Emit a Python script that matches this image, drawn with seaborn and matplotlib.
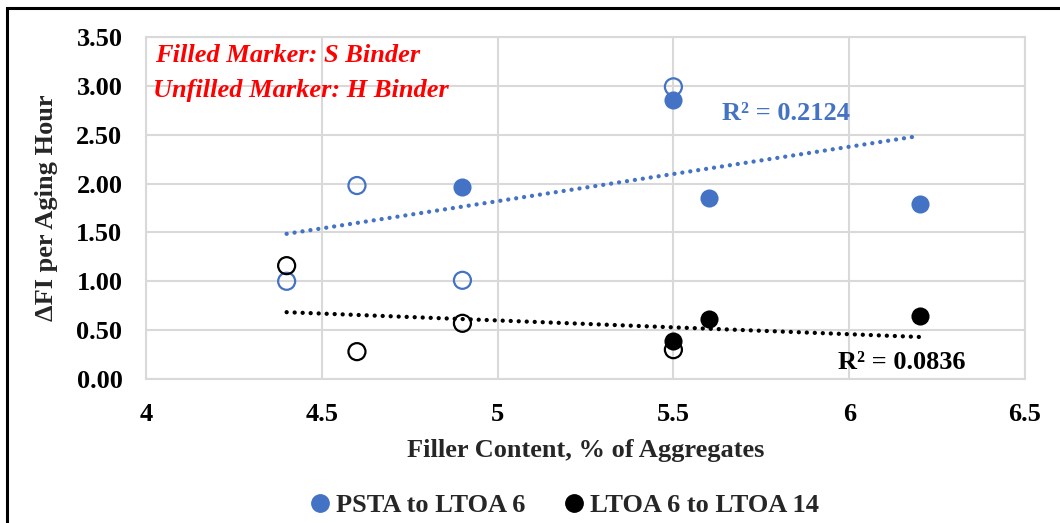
import matplotlib
matplotlib.use("Agg")
import matplotlib.pyplot as plt
import seaborn as sns
import numpy as np
from matplotlib.lines import Line2D
from matplotlib.patches import Rectangle

# Filler content (% of aggregates) and change in FI per aging hour
s_filler_psta = [4.9, 5.5, 5.6, 6.2]          # S binder, PSTA to LTOA 6
s_dfi_psta = [1.97, 2.86, 1.85, 1.79]
h_filler_psta = [4.4, 4.6, 4.9, 5.5]          # H binder, PSTA to LTOA 6
h_dfi_psta = [1.00, 1.98, 1.01, 2.99]

s_filler_ltoa = [5.5, 5.6, 6.2]               # S binder, LTOA 6 to LTOA 14
s_dfi_ltoa = [0.39, 0.61, 0.645]
h_filler_ltoa = [4.4, 4.6, 4.9, 5.5]          # H binder, LTOA 6 to LTOA 14
h_dfi_ltoa = [1.16, 0.28, 0.57, 0.30]

series_names = ["PSTA to LTOA 6", "LTOA 6 to LTOA 14"]
r2_labels = ["R\u00b2 = 0.2124", "R\u00b2 = 0.0836"]
x_ticks = [4, 4.5, 5, 5.5, 6, 6.5]
y_ticks = [0.0, 0.5, 1.0, 1.5, 2.0, 2.5, 3.0, 3.5]

BLUE = "#4472C4"
BLACK = "#000000"
GRID = "#d9d9d9"
FS = 19

sns.set_theme(style="white")
plt.rcParams["font.family"] = ["Liberation Serif", "DejaVu Serif"]
plt.rcParams["font.weight"] = "bold"

fig = plt.figure(figsize=(10.6, 5.23), dpi=100)
ax = fig.add_axes([146 / 1060, 1 - 379 / 523, (1025 - 146) / 1060, (379 - 37) / 523])

ms = 150
# trend lines over all points of each series
for xs, ys, col in [
    (s_filler_psta + h_filler_psta, s_dfi_psta + h_dfi_psta, BLUE),
    (s_filler_ltoa + h_filler_ltoa, s_dfi_ltoa + h_dfi_ltoa, BLACK),
]:
    sns.regplot(x=np.array(xs), y=np.array(ys), ax=ax, scatter=False, ci=None,
                truncate=True,
                line_kws=dict(color=col, lw=3.1, ls=(0, (0.01, 1.85)),
                              dash_capstyle="round", zorder=2))

# unfilled markers: H binder
sns.scatterplot(x=h_filler_psta, y=h_dfi_psta, ax=ax, s=ms, marker="o",
                facecolor="none", edgecolor=BLUE, linewidth=1.6, zorder=3)
sns.scatterplot(x=h_filler_ltoa, y=h_dfi_ltoa, ax=ax, s=ms, marker="o",
                facecolor="none", edgecolor=BLACK, linewidth=1.6, zorder=3)
# filled markers: S binder
sns.scatterplot(x=s_filler_psta, y=s_dfi_psta, ax=ax, s=ms + 20, marker="o",
                color=BLUE, edgecolor=BLUE, linewidth=0, zorder=4)
sns.scatterplot(x=s_filler_ltoa, y=s_dfi_ltoa, ax=ax, s=ms + 20, marker="o",
                color=BLACK, edgecolor=BLACK, linewidth=0, zorder=4)

ax.set_xlim(4, 6.5)
ax.set_ylim(0, 3.5)
ax.set_xticks(x_ticks)
ax.set_xticklabels([f"{v:g}" for v in x_ticks])
ax.set_yticks(y_ticks)
ax.set_yticklabels([f"{v:.2f}" for v in y_ticks])
ax.tick_params(axis="both", length=0, labelsize=FS, colors="black")
ax.tick_params(axis="x", pad=17)
ax.tick_params(axis="y", pad=17)
for lab in ax.get_xticklabels() + ax.get_yticklabels():
    lab.set_fontweight("bold")

ax.grid(True, color=GRID, lw=1.5)
ax.set_axisbelow(True)
for sp in ax.spines.values():
    sp.set_color(GRID)
    sp.set_linewidth(1.5)

ax.set_xlabel("Filler Content, % of Aggregates", fontsize=FS, fontweight="bold",
              labelpad=10)
ax.set_ylabel("\u0394FI per Aging Hour", fontsize=FS, fontweight="bold",
              labelpad=13)

ax.text(0.010, 0.947, "Filled Marker: S Binder", transform=ax.transAxes,
        color="red", fontsize=FS, fontweight="bold", style="italic", va="center")
ax.text(0.008, 0.845, "Unfilled Marker: H Binder", transform=ax.transAxes,
        color="red", fontsize=FS, fontweight="bold", style="italic", va="center")

ax.text(5.637, 2.72, r2_labels[0], color=BLUE, fontsize=FS, fontweight="bold",
        va="center")
ax.text(5.967, 0.17, r2_labels[1], color=BLACK, fontsize=FS, fontweight="bold",
        va="center")

handles = [
    Line2D([], [], ls="none", marker="o", markersize=12.5, color=BLUE),
    Line2D([], [], ls="none", marker="o", markersize=12.5, color=BLACK),
]
fig.legend(handles, series_names, loc="center", bbox_to_anchor=(559 / 1060, 1 - 505 / 523),
           ncol=2, frameon=False, handletextpad=-0.2, columnspacing=1.05,
           handlelength=1.6,
           prop=dict(family="Liberation Serif", weight="bold", size=FS))

# chart frame
fig.patches.append(Rectangle((7 / 1060, -0.2), 1.2, 1.2 - 8 / 523,
                             transform=fig.transFigure, fill=False,
                             edgecolor="black", lw=2.2))

fig.savefig("out.png", dpi=100, facecolor="white")
